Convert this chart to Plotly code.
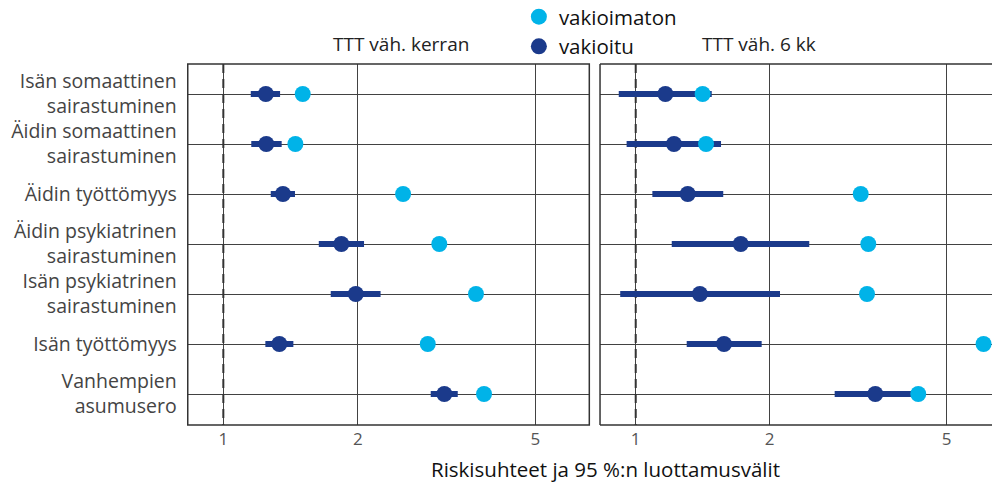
import plotly.graph_objects as go

categories = [
    "Isän somaattinen<br>sairastuminen",
    "Äidin somaattinen<br>sairastuminen",
    "Äidin työttömyys",
    "Äidin psykiatrinen<br>sairastuminen",
    "Isän psykiatrinen<br>sairastuminen",
    "Isän työttömyys",
    "Vanhempien<br>asumusero",
]
panel_titles = ["TTT väh. kerran", "TTT väh. 6 kk"]
series_names = ["vakioimaton", "vakioitu"]

# Panel 1: TTT väh. kerran
adj_1 = [1.245, 1.248, 1.36, 1.838, 1.98, 1.335, 3.126]
lo_1 = [1.152, 1.155, 1.277, 1.636, 1.74, 1.242, 2.914]
hi_1 = [1.34, 1.351, 1.447, 2.066, 2.25, 1.435, 3.35]
unadj_1 = [1.506, 1.45, 2.527, 3.046, 3.68, 2.87, 3.836]

# Panel 2: TTT väh. 6 kk
adj_2 = [1.166, 1.219, 1.309, 1.722, 1.394, 1.579, 3.455]
lo_2 = [0.916, 0.954, 1.09, 1.205, 0.923, 1.302, 2.8]
hi_2 = [1.482, 1.555, 1.573, 2.455, 2.11, 1.919, 4.24]
unadj_2 = [1.414, 1.439, 3.204, 3.332, 3.31, 6.05, 4.315]

x_ticks = [1, 2, 5]
ref_value = 1

LIGHT = "#00B3E8"
DARK = "#1B3A8B"
GRID = "#424242"
FONT = "Open Sans"

ypos = list(range(len(categories)))
fig = go.Figure()

panels = [
    (adj_1, lo_1, hi_1, unadj_1, "x", "y"),
    (adj_2, lo_2, hi_2, unadj_2, "x2", "y2"),
]
for i, (adj, lo, hi, unadj, xa, ya) in enumerate(panels):
    # reference line at 1
    fig.add_trace(go.Scatter(
        x=[ref_value, ref_value], y=[-0.6, len(categories) - 0.38],
        mode="lines", line=dict(color="#333333", width=2, dash="9px,6px"),
        xaxis=xa, yaxis=ya, showlegend=False, hoverinfo="skip"))
    fig.add_trace(go.Scatter(
        x=adj, y=ypos, mode="markers", name=series_names[1],
        marker=dict(color=DARK, size=16),
        error_x=dict(type="data", symmetric=False,
                     array=[h - a for h, a in zip(hi, adj)],
                     arrayminus=[a - l for a, l in zip(adj, lo)],
                     color=DARK, thickness=6, width=0),
        xaxis=xa, yaxis=ya, showlegend=(i == 0), legendrank=2))
    fig.add_trace(go.Scatter(
        x=unadj, y=ypos, mode="markers", name=series_names[0],
        marker=dict(color=LIGHT, size=16),
        xaxis=xa, yaxis=ya, showlegend=(i == 0), legendrank=1))

axis_common = dict(type="log", tickvals=x_ticks, ticktext=[str(t) for t in x_ticks],
                   showgrid=True, gridcolor=GRID, gridwidth=1.4, zeroline=False, automargin=False,
                   showline=False, ticks="", ticklabelstandoff=2,
                   tickfont=dict(family=FONT, size=17, color="#555555"))
yaxis_common = dict(range=[len(categories) - 0.38, -0.6], tickvals=ypos, showgrid=True,
                    automargin=False, gridcolor=GRID, gridwidth=1.4, zeroline=False,
                    showline=False, ticks="")

fig.update_layout(
    width=992, height=477,
    margin=dict(l=0, r=0, t=56, b=60, autoexpand=False),
    paper_bgcolor="white", plot_bgcolor="white",
    font=dict(family=FONT, color="#222222"),
    xaxis=dict(domain=[0.1812, 0.5860], range=[-0.0797, 0.8197], **axis_common),
    xaxis2=dict(domain=[0.5968, 1.0], range=[-0.0802, 0.8187], **axis_common),
    yaxis=dict(ticktext=categories, tickfont=dict(family=FONT, size=19.5, color="#444444"),
               ticklabelstandoff=10, **yaxis_common),
    yaxis2=dict(anchor="x2", showticklabels=False, **yaxis_common),
    legend=dict(x=0.515, y=1.186, xref="container", yref="paper",
                xanchor="left", yanchor="top",
                font=dict(family=FONT, size=20.5, color="#111111"),
                tracegroupgap=0, itemsizing="trace", bgcolor="rgba(0,0,0,0)"),
    shapes=[
        dict(type="rect", xref="x domain", yref="y domain", x0=0, x1=1, y0=0, y1=1,
             line=dict(color="#333333", width=1.5), layer="above"),
        dict(type="line", xref="x2 domain", yref="y2 domain", x0=0, x1=0, y0=0, y1=1,
             line=dict(color="#333333", width=1.5), layer="above"),
        dict(type="line", xref="x2 domain", yref="y2 domain", x0=0, x1=1, y0=1, y1=1,
             line=dict(color="#333333", width=1.5), layer="above"),
        dict(type="line", xref="x2 domain", yref="y2 domain", x0=0, x1=1, y0=0, y1=0,
             line=dict(color="#333333", width=1.5), layer="above"),
    ],
    annotations=[
        dict(text=panel_titles[0], x=0.3957, y=1.0, xref="paper", yref="paper",
             yanchor="middle", yshift=20, showarrow=False,
             font=dict(family=FONT, size=19, color="#222222")),
        dict(text=panel_titles[1], x=0.8165, y=1.0, xref="paper", yref="paper",
             yanchor="middle", yshift=20, showarrow=False,
             font=dict(family=FONT, size=19, color="#222222")),
        dict(text="Riskisuhteet ja 95 %:n luottamusvälit", x=0.6023, y=0, xref="paper",
             yref="paper", yanchor="middle", yshift=-44, showarrow=False,
             font=dict(family=FONT, size=20.5, color="#111111")),
    ],
)

fig.write_html("out.html")
